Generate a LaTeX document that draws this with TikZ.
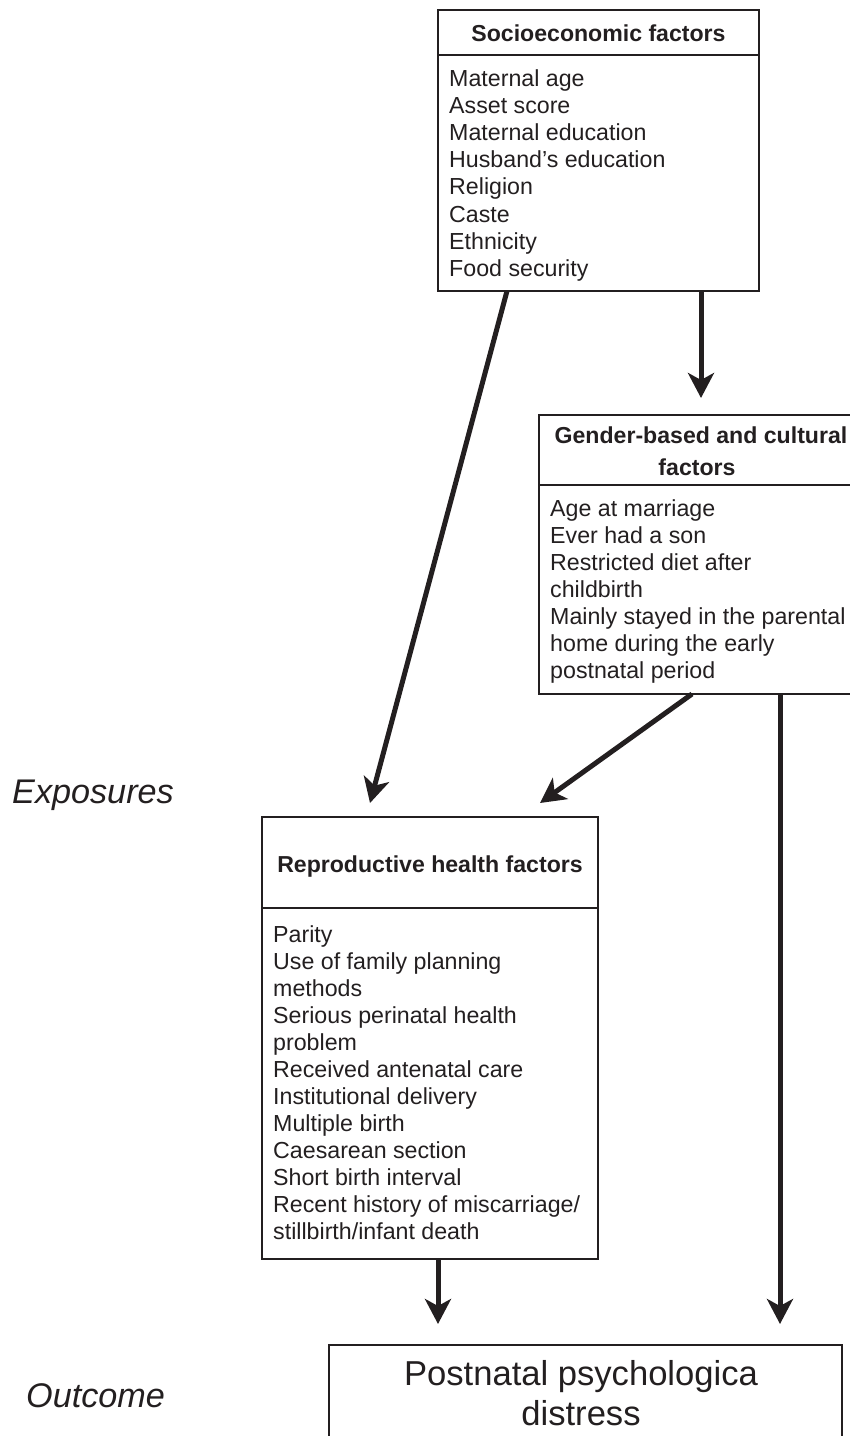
\documentclass[tikz,border=0pt]{standalone}
\usepackage{fontspec}
\setmainfont{Liberation Sans}
\usetikzlibrary{arrows.meta,calc}
\definecolor{ink}{HTML}{231F20}
\begin{document}
\begin{tikzpicture}[x=1pt,y=-1pt, color=ink,
  box/.style={draw=ink, line width=1.8pt, rectangle, inner sep=0pt, outer sep=0pt, anchor=north west},
  hdr/.style={font=\fontsize{23.1}{32}\selectfont\bfseries, inner sep=0pt, anchor=base},
  bodytxt/.style={font=\fontsize{23.2}{27}\selectfont, inner sep=0pt, anchor=base west},
  big/.style={font=\fontsize{34.6}{40}\selectfont, inner sep=0pt, anchor=base},
  side/.style={font=\fontsize{34.2}{40}\selectfont\itshape, inner sep=0pt, anchor=base west},
  sep/.style={draw=ink, line width=1.8pt},
  arr/.style={draw=ink, line width=5pt, -{Stealth[length=25pt,width=26pt,inset=7pt]}},
]
\useasboundingbox (0,0) rectangle (850,1436);

% boxes
\node[box, minimum width=321pt, minimum height=281pt] (se) at (438,10) {};
\node[box, minimum width=320pt, minimum height=279pt] (gb) at (539,415) {};
\node[box, minimum width=336pt, minimum height=442pt] (rh) at (262,817) {};
\node[box, minimum width=513pt, minimum height=120pt] (out) at (329,1345) {};

% header separators
\draw[sep] ([yshift=-45pt]se.north west) -- ([yshift=-45pt]se.north east);
\draw[sep] ([yshift=-70pt]gb.north west) -- ([yshift=-70pt]gb.north east);
\draw[sep] ([yshift=-91pt]rh.north west) -- ([yshift=-91pt]rh.north east);

% headers
\node[hdr] (seh) at (598.5,41) {Socioeconomic factors};
\node[hdr] (gbh1) at (701,443) {Gender-based and cultural};
\node[hdr] (gbh2) at (697,475) {factors};
\node[hdr] (rhh) at (430,872) {Reproductive health factors};

% body texts
\foreach \t [count=\i] in {Maternal age, Asset score, Maternal education, Husband’s education, Religion, Caste, Ethnicity, Food security}
  \node[bodytxt, name=se\i] at (449,{86+27.2*(\i-1)}) {\t};
\foreach \t [count=\i] in {Age at marriage, Ever had a son, Restricted diet after, childbirth, Mainly stayed in the parental, home during the early, postnatal period}
  \node[bodytxt, name=gb\i] at (550,{516+27*(\i-1)}) {\t};
\foreach \t [count=\i] in {Parity, Use of family planning, methods, Serious perinatal health, problem, Received antenatal care, Institutional delivery, Multiple birth, Caesarean section, Short birth interval, Recent history of miscarriage/, stillbirth/infant death}
  \node[bodytxt, name=rh\i] at (273,{942+27*(\i-1)}) {\t};

% outcome text
\node[big] (out1) at (581,1385) {Postnatal psychologica};
\node[big] (out2) at (581,1425) {distress};

% side labels
\node[side] (expo) at (12,803) {Exposures};
\node[side] (outc) at (26,1407) {Outcome};

% arrows
\coordinate (t1) at (370,803);
\draw[arr] ([xshift=69pt]se.south west) -- (t1);
\draw[arr] ([xshift=263pt]se.south west) -- ([xshift=162pt,yshift=17pt]gb.north west);
\draw[arr] ([xshift=153pt]gb.south west) -- ([xshift=278pt,yshift=14pt]rh.north west);
\draw[arr] ([xshift=241pt]gb.south west) -- ([xshift=451pt,yshift=21pt]out.north west);
\draw[arr] ([xshift=176pt]rh.south west) -- ([xshift=109pt,yshift=21pt]out.north west);
\end{tikzpicture}
\end{document}
